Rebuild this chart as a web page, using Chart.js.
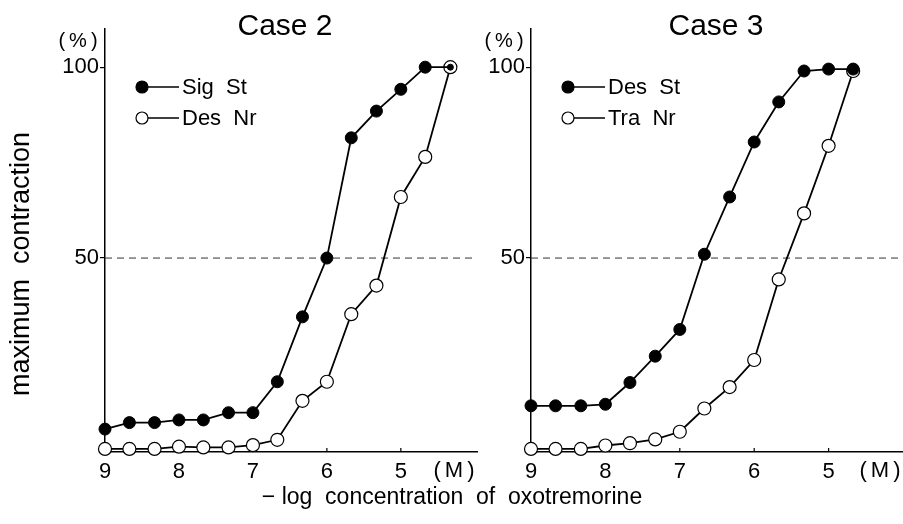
<!DOCTYPE html>
<html>
<head>
<meta charset="utf-8">
<title>Case 2 / Case 3</title>
<script src="https://cdn.jsdelivr.net/npm/chart.js@4.4.0/dist/chart.umd.min.js"></script>
<style>
  html, body { margin: 0; padding: 0; background: #fff; }
  #wrap { position: relative; width: 903px; height: 524px; overflow: hidden; }
  #case2 { position: absolute; left: 0; top: 0; }
  #case3 { position: absolute; left: 480px; top: 0; }
</style>
</head>
<body>
<div id="wrap">
  <canvas id="case2" width="903" height="524"></canvas>
  <canvas id="case3" width="423" height="524"></canvas>
</div>
<script>
// -log concentration d'oxotrémorine (M)
const logConcCase2 = [9, 8.67, 8.33, 8, 7.67, 7.33, 7, 6.67, 6.33, 6, 5.67, 5.33, 5, 4.67, 4.33];
const sigSt = [5.2, 6.9, 6.9, 7.6, 7.6, 9.5, 9.5, 17.6, 34.6, 50, 81.5, 88.5, 94.2, 100, 100];
const desNr = [0, 0, 0, 0.6, 0.4, 0.4, 1, 2.4, 12.6, 17.6, 35.3, 42.8, 66, 76.5, 100];

const logConcCase3 = [9, 8.67, 8.33, 8, 7.67, 7.33, 7, 6.67, 6.33, 6, 5.67, 5.33, 5, 4.67];
const desSt = [11.3, 11.3, 11.3, 11.7, 17.4, 24.3, 31.3, 51, 66, 80.4, 90.9, 99, 99.5, 99.5];
const traNr = [0, 0, 0, 0.9, 1.5, 2.5, 4.5, 10.6, 16.2, 23.3, 44.4, 61.7, 79.4, 99];

// graduations
const xTicks = [9, 8, 7, 6, 5];
const yTicks = [50, 100];
const halfLine = 50;

const FONT = "'Liberation Sans', Arial, sans-serif";

function toPoints(xs, ys) {
    return xs.map((x, i) => ({ x: x, y: ys[i] }));
}

// Texte, légende et ligne des 50 %
const figurePlugin = {
    id: 'figure',
    beforeDatasetsDraw(chart) {
        const ctx = chart.ctx;
        const area = chart.chartArea;
        const y50 = chart.scales.y.getPixelForValue(halfLine);
        ctx.save();
        ctx.strokeStyle = '#333';
        ctx.lineWidth = 1;
        ctx.setLineDash([7, 5]);
        ctx.beginPath();
        ctx.moveTo(area.left, y50);
        ctx.lineTo(area.right, y50);
        ctx.stroke();
        ctx.setLineDash([]);
        // petites graduations vers l'intérieur
        ctx.lineWidth = 1.2;
        ctx.strokeStyle = '#000';
        xTicks.slice(1).forEach(v => {
            const px = chart.scales.x.getPixelForValue(v);
            ctx.beginPath();
            ctx.moveTo(px, area.bottom);
            ctx.lineTo(px, area.bottom - 4);
            ctx.stroke();
        });
        ctx.restore();
    },
    afterDraw(chart, args, opts) {
        const ctx = chart.ctx;
        const area = chart.chartArea;
        ctx.save();
        ctx.fillStyle = '#000';

        // titre
        ctx.font = '30px ' + FONT;
        ctx.textAlign = 'center';
        ctx.textBaseline = 'middle';
        ctx.fillText(opts.title, opts.titleX, 27);

        // unités
        ctx.font = '20px ' + FONT;
        ctx.letterSpacing = '4px';
        ctx.fillText('(%)', area.left - 25, 41);
        ctx.font = '22px ' + FONT;
        ctx.fillText('(M)', area.right - 21, area.bottom + 19);
        ctx.letterSpacing = '0px';

        // légende
        chart.data.datasets.forEach((ds, i) => {
            const cy = 87 + i * 31;
            const cx = area.left + 37;
            ctx.strokeStyle = '#000';
            ctx.lineWidth = 1.6;
            ctx.beginPath();
            ctx.moveTo(cx, cy);
            ctx.lineTo(cx + 37, cy);
            ctx.stroke();
            ctx.beginPath();
            ctx.arc(cx, cy, 6, 0, Math.PI * 2);
            ctx.fillStyle = ds.pointBackgroundColor;
            ctx.fill();
            ctx.lineWidth = 1.2;
            ctx.stroke();
            ctx.fillStyle = '#000';
            ctx.font = '22px ' + FONT;
            ctx.textAlign = 'left';
            ctx.fillText(ds.label, cx + 40, cy + 1);
        });

        // titres des axes (sur la figure de gauche seulement)
        if (opts.axisTitles) {
            ctx.textAlign = 'center';
            ctx.font = '23px ' + FONT;
            ctx.fillText('\u2212 log  concentration  of  oxotremorine', 452, 498);
            ctx.translate(22, 264);
            ctx.rotate(-Math.PI / 2);
            ctx.font = '27px ' + FONT;
            ctx.fillText('maximum  contraction', 0, 0);
        }
        ctx.restore();
    }
};

function makeChart(canvasId, labels, xs, filled, open, cfg) {
    const lastIdx = xs.length - 1;
    return new Chart(document.getElementById(canvasId), {
        type: 'scatter',
        data: {
            datasets: [
                {
                    label: labels[0],
                    data: toPoints(xs, filled),
                    showLine: true,
                    borderColor: '#000',
                    borderWidth: 1.8,
                    pointBackgroundColor: '#000',
                    pointBorderColor: '#000',
                    pointBorderWidth: 1,
                    pointRadius: ctx => (cfg.ringLast && ctx.dataIndex === lastIdx) ? 3 : 6,
                    clip: false
                },
                {
                    label: labels[1],
                    data: toPoints(xs, open),
                    showLine: true,
                    borderColor: '#000',
                    borderWidth: 1.8,
                    pointBackgroundColor: '#fff',
                    pointBorderColor: '#000',
                    pointBorderWidth: 1.2,
                    pointRadius: 6.5,
                    clip: false
                }
            ]
        },
        options: {
            responsive: false,
            animation: false,
            events: [],
            layout: { autoPadding: false, padding: { top: 29, right: cfg.padRight, left: 0, bottom: 0 } },
            plugins: {
                legend: { display: false },
                tooltip: { enabled: false },
                figure: { title: cfg.title, titleX: cfg.titleX, axisTitles: cfg.axisTitles }
            },
            scales: {
                x: {
                    type: 'linear',
                    reverse: true,
                    min: cfg.xMin,
                    max: 9,
                    afterBuildTicks: scale => { scale.ticks = xTicks.map(v => ({ value: v })); },
                    afterFit: scale => {
                        scale.height = 72;
                        scale.paddingLeft = 0;
                        scale.paddingRight = 0;
                    },
                    grid: { display: false },
                    border: { display: true, color: '#000', width: 1.5 },
                    ticks: {
                        color: '#000',
                        padding: -1,
                        maxRotation: 0,
                        font: { family: FONT, size: 22 }
                    }
                },
                y: {
                    min: -0.8,
                    max: 110,
                    afterBuildTicks: scale => { scale.ticks = yTicks.map(v => ({ value: v })); },
                    afterFit: scale => { scale.width = cfg.yWidth; },
                    grid: { display: true, drawOnChartArea: false, drawTicks: true, tickLength: 5, color: '#000', lineWidth: 1.2 },
                    border: { display: true, color: '#000', width: 1.5 },
                    ticks: {
                        color: '#000',
                        padding: 1,
                        font: { family: FONT, size: 22 }
                    }
                }
            }
        },
        plugins: [figurePlugin]
    });
}

document.addEventListener('DOMContentLoaded', function() {
    makeChart('case2', ['Sig  St', 'Des  Nr'], logConcCase2, sigSt, desNr, {
        title: 'Case 2', titleX: 285, axisTitles: true,
        xMin: 3.97, yWidth: 105, padRight: 426, ringLast: true
    });
    makeChart('case3', ['Des  St', 'Tra  Nr'], logConcCase3, desSt, traNr, {
        title: 'Case 3', titleX: 236, axisTitles: false,
        xMin: 4.0, yWidth: 51, padRight: 0, ringLast: false
    });
});
</script>
</body>
</html>
